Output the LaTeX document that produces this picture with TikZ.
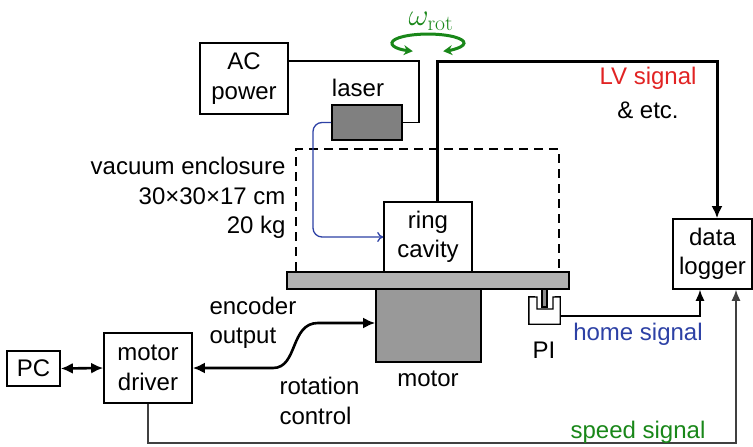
\documentclass[tikz,border=0pt]{standalone}
\usepackage[no-math]{fontspec}
\setmainfont{Liberation Sans}
\usetikzlibrary{arrows.meta}
\definecolor{lvred}{RGB}{225,35,35}
\definecolor{homeblue}{RGB}{45,65,165}
\definecolor{rotgreen}{RGB}{25,135,25}
\begin{document}
\begin{tikzpicture}[x=1pt,y=-1pt,font=\fontsize{24}{29.5}\selectfont,every node/.style={text=black},
    box/.style={draw, line width=1.6pt, align=center, inner sep=0pt},
    wire/.style={line width=1.3pt},
    tip/.style={-{Latex[length=11pt,width=9pt]}}]
    \useasboundingbox (0,0) rectangle (753,447);
    % boxes
    \node[box, minimum width=88, minimum height=71] (ac) at (244,78.5) {AC\\power};
    \node[box, fill=black!50, minimum width=70, minimum height=35] (laser) at (367,122.5) {};
    \node (laserlab) at (358,88) {laser};
    \node[box, fill=black!30, minimum width=282, minimum height=17] (plate) at (428,280.5) {};
    \node[box, minimum width=88, minimum height=70] (cavity) at (428,237) {ring\\cavity};
    \node[box, fill=black!40, minimum width=105, minimum height=73] (motor) at (428.5,325.5) {};
    \node (motorlab) at (428,379) {motor};
    \node[box, minimum width=79, minimum height=70] (logger) at (712.5,254) {data\\logger};
    \node[box, minimum width=88, minimum height=70] (driver) at (148,368) {motor\\driver};
    \node[box, minimum width=53, minimum height=35] (pc) at (33.5,368.5) {PC};
    \node[minimum width=31, minimum height=27, inner sep=0pt] (pi) at (544.5,310.5) {};
    \node (pilab) at (544,350) {PI};
    % vacuum enclosure
    \draw[line width=1.3pt, dash pattern=on 9pt off 6pt] (296,271) -- (296,149) -- (559,149) -- (559,271);
    \node[anchor=east, align=right] (vaclab) at (289,198) {vacuum enclosure\\30×30×17 cm\\20 kg};
    % photo interrupter
    \draw[line width=1.4pt, fill=black!45] (542,289) rectangle (547,307);
    \draw[line width=1.4pt] (pi.north west) -- (pi.south west) -- (pi.south east) -- (pi.north east)
        -- (553,297) -- (553,309) -- (537,309) -- (537,297) -- cycle;
    % rotation
    \node[text=rotgreen, scale=1.25] (omega) at (431,21) {$\omega_{\mathrm{rot}}$};
    \draw[rotgreen, line width=3pt, {Stealth[length=9pt,width=10pt]}-{Stealth[length=9pt,width=10pt]}]
        (412.8,51.2) arc[start angle=115, end angle=425, x radius=36, y radius=9];
    % connections
    \draw[wire] (ac.east |- 0,61) -| (419,122.5) -- (laser.east);
    \draw[homeblue, line width=1.3pt, rounded corners=9, -{To[length=6pt,width=10pt]}]
        (laser.west) -| (313,237) -- (cavity.west);
    \draw[line width=3pt, -{Latex[length=12pt,width=11pt]}] ([xshift=9pt]cavity.north) |- (717,61) -- ([xshift=4.5pt]logger.north);
    \node[text=lvred] (lvlab) at (648,78) {LV signal};
    \node (etclab) at (648,110) {\& etc.};
    \draw[line width=2.6pt, {Latex[length=12pt,width=11pt]}-{Latex[length=12pt,width=11pt]}] (pc.east) -- (driver.west);
    \draw[line width=2.6pt, {Latex[length=12pt,width=11pt]}-{Latex[length=12pt,width=11pt]}] (driver.east) -- (273,368)
        .. controls (298,368) and (290,323) .. (318,323) -- ([yshift=2.5pt]motor.west);
    \node[anchor=west, align=left] (enclab) at (206,323) {encoder\\output};
    \node[anchor=west, align=left] (rotlab) at (276,401) {rotation\\control};
    \draw[wire, tip] ([yshift=-5.5pt]pi.east) -| ([xshift=-12.5pt]logger.south);
    \node[text=homeblue] (homelab) at (638,334) {home signal};
    \draw[wire, black!75, tip] (driver.south) |- (736,443) -- ([xshift=23.5pt]logger.south);
    \node[text=rotgreen] (speedlab) at (638,432) {speed signal};
\end{tikzpicture}
\end{document}
